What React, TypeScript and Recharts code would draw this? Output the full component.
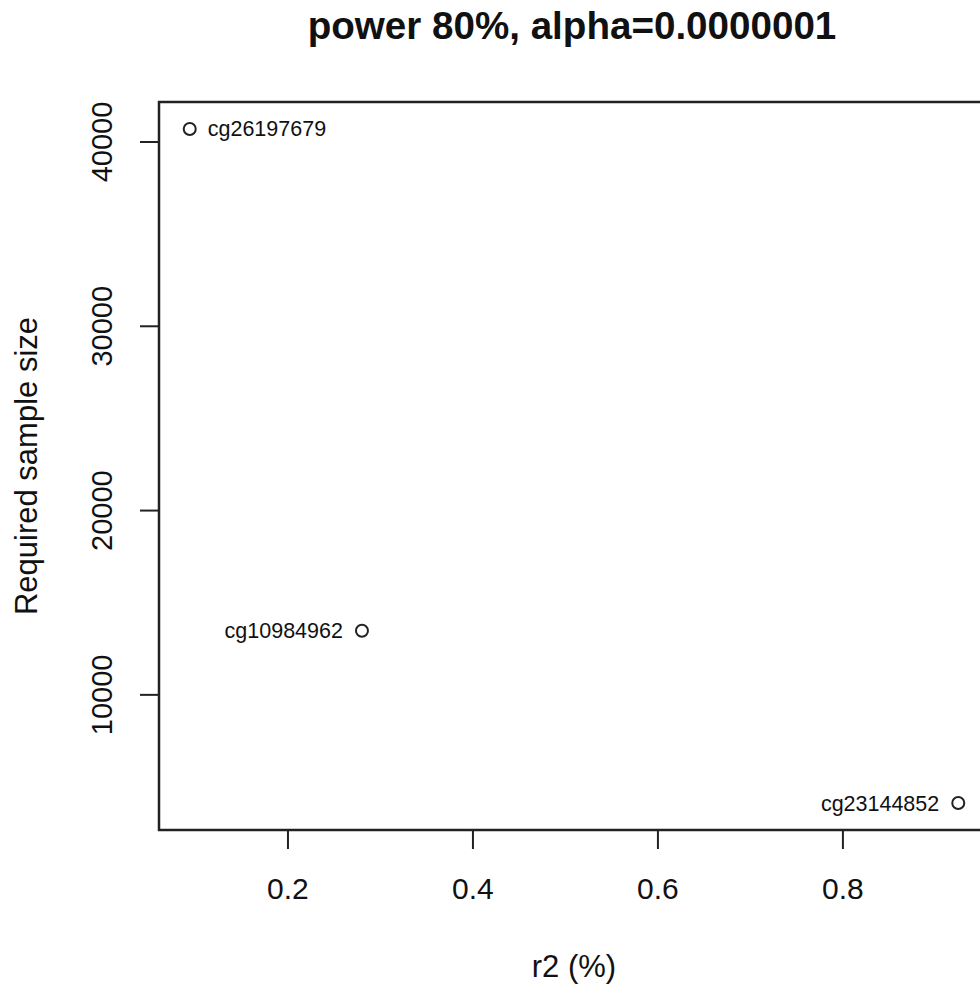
import { ScatterChart, Scatter, XAxis, YAxis, ReferenceArea } from "recharts";

// probes from the power calculation
const probes = ["cg26197679", "cg10984962", "cg23144852"];
const r2 = [0.0938, 0.28, 0.9247];
const sampleSize = [40707, 13478, 4130];
const labelSide = ["right", "left", "left"];

const xTicks = [0.2, 0.4, 0.6, 0.8];
const yTicks = [10000, 20000, 30000, 40000];

const FONT = "'Liberation Sans', Arial, Helvetica, sans-serif";
const INK = "#222";

const data = probes.map((name, i) => ({
  name,
  r2: r2[i],
  n: sampleSize[i],
  side: labelSide[i],
}));

// R style: data range padded by 4% on each side
function pad(values: number[]): [number, number] {
  const lo = Math.min(...values);
  const hi = Math.max(...values);
  const d = (hi - lo) * 0.04;
  return [lo - d, hi + d];
}

const xDomain = pad(r2);
const yDomain = pad(sampleSize);

function XTick(props: any) {
  const { x, y, payload } = props;
  return (
    <text x={x} y={y + 50} textAnchor="middle" fontFamily={FONT} fontSize={30} fill="#111">
      {payload.value}
    </text>
  );
}

function YTick(props: any) {
  const { x, y, payload } = props;
  const tx = x - 28;
  return (
    <text
      x={tx}
      y={y}
      transform={`rotate(-90 ${tx} ${y})`}
      textAnchor="middle"
      fontFamily={FONT}
      fontSize={29}
      fill="#111"
    >
      {payload.value}
    </text>
  );
}

function Point(props: any) {
  const { cx, cy, payload } = props;
  const right = payload.side === "right";
  return (
    <g>
      <circle cx={cx} cy={cy} r={6} fill="none" stroke={INK} strokeWidth={2} />
      <text
        x={right ? cx + 18 : cx - 19}
        y={cy + 7.5}
        textAnchor={right ? "start" : "end"}
        fontFamily={FONT}
        fontSize={21.5}
        fill="#111"
      >
        {payload.name}
      </text>
    </g>
  );
}

export default function App() {
  return (
    <div
      style={{
        position: "absolute",
        left: 0,
        top: 0,
        width: 980,
        height: 988,
        overflow: "hidden",
        background: "#fff",
      }}
    >
      <ScatterChart width={1000} height={988} margin={{ top: 102, right: 11, bottom: 0, left: 0 }}>
        <XAxis
          type="number"
          dataKey="r2"
          domain={xDomain}
          ticks={xTicks}
          height={158}
          tickSize={19}
          tickMargin={0}
          axisLine={false}
          tickLine={{ stroke: INK, strokeWidth: 2 }}
          tick={<XTick />}
          allowDataOverflow
        />
        <YAxis
          type="number"
          dataKey="n"
          domain={yDomain}
          ticks={yTicks}
          width={159}
          tickSize={19}
          tickMargin={0}
          axisLine={false}
          tickLine={{ stroke: INK, strokeWidth: 2 }}
          tick={<YTick />}
          allowDataOverflow
        />
        <ReferenceArea
          x1={xDomain[0]}
          x2={xDomain[1]}
          y1={yDomain[0]}
          y2={yDomain[1]}
          fill="none"
          stroke={INK}
          strokeWidth={2.5}
        />
        <Scatter data={data} shape={<Point />} isAnimationActive={false} />
      </ScatterChart>
      <svg
        width={980}
        height={988}
        style={{ position: "absolute", left: 0, top: 0, pointerEvents: "none" }}
      >
        <text x={572} y={39} textAnchor="middle" fontFamily={FONT} fontSize={38.6} fontWeight="bold" fill="#111">
          power 80%, alpha=0.0000001
        </text>
        <text x={574} y={977} textAnchor="middle" fontFamily={FONT} fontSize={31} fill="#111">
          r2 (%)
        </text>
        <text
          x={37}
          y={466}
          transform="rotate(-90 37 466)"
          textAnchor="middle"
          fontFamily={FONT}
          fontSize={31}
          fill="#111"
        >
          Required sample size
        </text>
      </svg>
    </div>
  );
}
